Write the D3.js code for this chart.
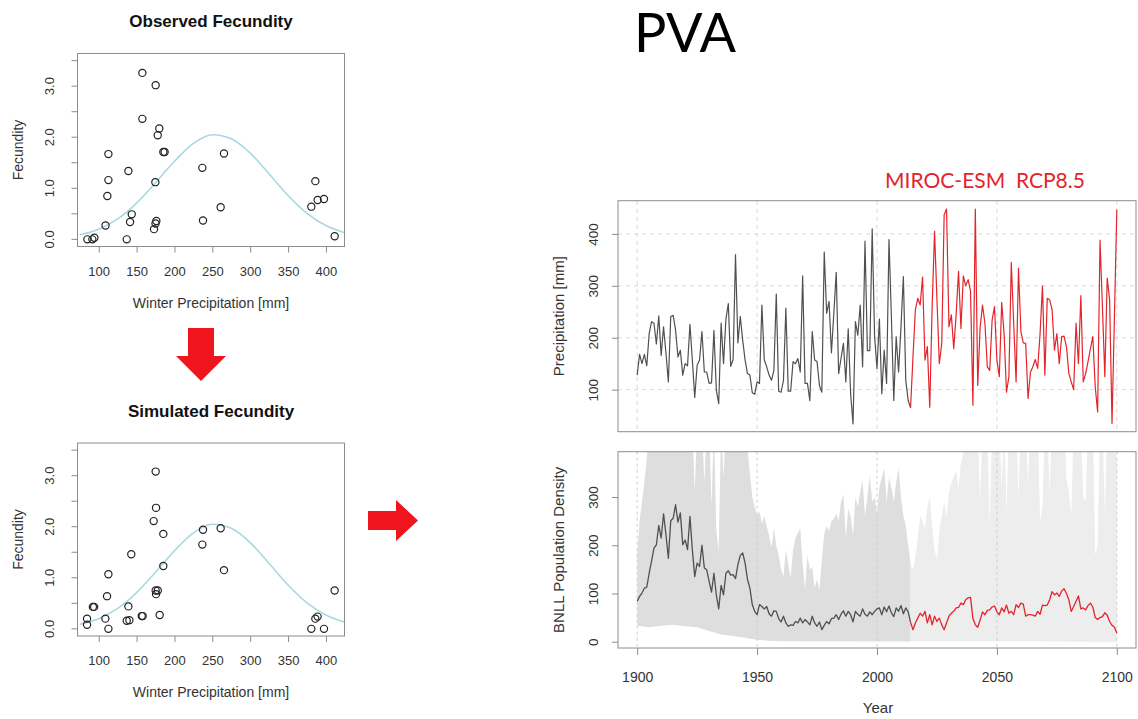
<!DOCTYPE html>
<html>
<head>
<meta charset="utf-8">
<script src="https://cdn.jsdelivr.net/npm/d3@7"></script>
<style>
  body { margin: 0; background: #fff; }
  svg { display: block; font-family: "Liberation Sans", Arial, sans-serif; }
</style>
</head>
<body>
<svg id="chart" width="1138" height="719"></svg>
<script>
// Fecundity vs winter precipitation (observed and simulated)
const obsPrecip = [85, 91.6, 94.3, 109, 111.4, 112.8, 112.8, 137, 141.4, 143.6, 139.2, 157.6, 157.6, 175.2, 180, 177.9, 185.3, 187, 174.8, 176.1, 175, 173, 236.8, 237.7, 261, 265.4, 380.7, 386, 389, 397.4, 411.5];
const obsFec = [0, 0, 0.03, 0.27, 0.85, 1.16, 1.67, 0, 0.34, 0.49, 1.34, 3.26, 2.36, 3.02, 2.17, 2.04, 1.71, 1.71, 1.12, 0.36, 0.31, 0.2, 1.4, 0.37, 0.63, 1.68, 0.64, 1.14, 0.77, 0.79, 0.06];
const simPrecip = [84.6, 84.6, 92.3, 94, 108.8, 111, 112.8, 112.8, 137, 140.5, 139.2, 143, 156.8, 158, 172.6, 175.2, 175.7, 175.2, 178, 175.7, 180.5, 185.3, 185.3, 236.8, 237.7, 261, 265.4, 380.7, 386, 389, 397.4, 411.5];
const simFec = [0.2, 0.08, 0.43, 0.43, 0.2, 0.64, 1.07, 0, 0.16, 0.17, 0.44, 1.46, 0.25, 0.25, 2.11, 3.08, 2.37, 0.75, 0.75, 0.68, 0.27, 1.86, 1.23, 1.65, 1.94, 1.97, 1.15, 0, 0.2, 0.24, 0, 0.75];
// fitted response curve
const curvePrecip = [75, 100, 125, 150, 175, 200, 225, 250, 275, 300, 325, 350, 375, 400, 425];
const curveFec = [0.09, 0.2, 0.4, 0.71, 1.11, 1.53, 1.88, 2.05, 1.97, 1.69, 1.28, 0.86, 0.51, 0.27, 0.13];
const precipTicks = [100, 150, 200, 250, 300, 350, 400];
const fecTicks = [0, 0.5, 1, 1.5, 2, 2.5, 3, 3.5];
const fecLabels = ["0.0", "", "1.0", "", "2.0", "", "3.0", ""];

// Annual series 1900-2100 (MIROC-ESM RCP8.5 from 2014)
const years = d3.range(1900, 2101);
const splitYear = 2014;
const precip = [
  128, 168, 150, 168, 146, 208, 231, 228, 188, 242,
  166, 221, 170, 115, 241, 243, 215, 163, 176, 128,
  150, 146, 226, 157, 85, 147, 157, 212, 134, 134,
  112, 113, 214, 99, 73, 228, 150, 236, 266, 145,
  158, 360, 190, 241, 195, 157, 131, 128, 94, 91,
  115, 112, 263, 157, 144, 128, 118, 137, 284, 97,
  95, 118, 257, 97, 97, 154, 150, 160, 134, 319,
  112, 112, 79, 212, 157, 154, 108, 95, 365, 247,
  270, 171, 247, 326, 131, 160, 189, 115, 217, 92,
  34, 231, 205, 263, 144, 386, 175, 175, 410, 202,
  141, 236, 92, 176, 112, 389, 240, 79, 202, 134,
  221, 318, 118, 79, 65, 163, 254, 276, 263, 317,
  157, 183, 66, 260, 405, 273, 150, 189, 437, 448,
  221, 244, 179, 244, 328, 218, 319, 300, 312, 290,
  70, 448, 108, 220, 263, 228, 144, 137, 234, 260,
  157, 125, 268, 208, 95, 125, 345, 228, 115, 334,
  212, 190, 189, 83, 134, 144, 158, 141, 208, 300,
  128, 276, 273, 254, 176, 208, 150, 202, 203, 183,
  131, 115, 100, 228, 150, 281, 115, 131, 154, 179,
  202, 105, 57, 388, 260, 125, 315, 273, 35, 240,
  447
];
const density = [
  84, 94, 101, 111, 113, 142, 167, 194, 201, 241,
  215, 265, 222, 173, 251, 256, 284, 248, 267, 201,
  211, 191, 260, 191, 135, 163, 156, 200, 153, 149,
  125, 103, 142, 97, 68, 117, 97, 142, 147, 138,
  139, 131, 160, 179, 184, 163, 129, 111, 77, 63,
  56, 77, 73, 68, 73, 58, 53, 64, 63, 48,
  41, 53, 39, 32, 35, 34, 42, 39, 49, 39,
  46, 41, 35, 53, 39, 32, 41, 25, 34, 42,
  37, 48, 49, 56, 46, 57, 64, 53, 63, 56,
  41, 63, 57, 53, 68, 57, 53, 62, 56, 63,
  68, 70, 56, 72, 62, 74, 60, 52, 70, 63,
  75, 58, 70, 62, 40, 25, 39, 49, 59, 53,
  63, 39, 56, 35, 53, 42, 49, 35, 25, 39,
  53, 59, 63, 70, 71, 80, 77, 87, 91, 92,
  48, 35, 30, 45, 62, 56, 65, 66, 72, 74,
  62, 56, 70, 62, 76, 59, 63, 56, 77, 71,
  80, 78, 53, 56, 56, 55, 53, 63, 57, 76,
  75, 76, 87, 104, 97, 101, 94, 105, 110, 100,
  87, 63, 73, 84, 95, 68, 70, 66, 75, 80,
  72, 50, 46, 50, 52, 60, 55, 42, 34, 30,
  18
];
// upper edge of the simulation envelope (values above ~394 run off the panel)
const bandUpper = [
  180, 250, 290, 330, 380, 450, 450, 450, 450, 450,
  450, 450, 450, 450, 450, 450, 450, 450, 450, 450,
  450, 450, 450, 450, 310, 450, 450, 450, 330, 450,
  450, 280, 450, 230, 190, 450, 340, 450, 450, 450,
  450, 450, 450, 450, 450, 450, 400, 350, 300, 280,
  262, 270, 245, 260, 240, 220, 195, 235, 200, 180,
  150, 135, 190, 160, 132, 190, 215, 225, 235, 160,
  110, 180, 150, 155, 112, 130, 108, 170, 225, 240,
  230, 250, 255, 265, 250, 290, 305, 215, 275, 260,
  220, 300, 280, 310, 335, 260, 300, 345, 290, 300,
  265, 320, 340, 360, 290, 340, 320, 290, 330, 360,
  300, 260, 240, 200, 160, 150, 175, 215, 260, 250,
  235, 280, 300, 240, 190, 170, 230, 260, 290, 260,
  310, 330, 340, 355, 320, 370, 390, 450, 450, 450,
  450, 450, 450, 290, 450, 450, 450, 240, 450, 450,
  450, 450, 320, 450, 270, 450, 450, 450, 450, 300,
  450, 450, 450, 330, 450, 450, 450, 450, 250, 280,
  450, 450, 310, 450, 450, 450, 450, 450, 450, 340,
  310, 260, 450, 450, 450, 450, 300, 290, 450, 450,
  450, 180, 200, 450, 450, 270, 450, 450, 450, 400,
  380
];
const bandLowerYears = [1900, 1905, 1910, 1915, 1920, 1925, 1930, 1935, 1940, 1945, 1950, 1955, 1960, 2014, 2100];
const bandLower = [33, 30, 33, 35, 32, 30, 22, 15, 12, 8, 4, 2, 1, 0.5, 0];
const yearTicks = [1900, 1950, 2000, 2050, 2100];
const precipYTicks = [100, 200, 300, 400];
const densYTicks = [0, 100, 200, 300];

const svg = d3.select("#chart");
const textCol = "#333";
const boxCol = "#8c8c8c";
const redCol = "#e3242b";
const histCol = "#505050";

// ---------- left: fecundity panels ----------
function fecundityPanel(top, title, xs, ys, id) {
    const bottom = top + 193;
    const x = d3.scaleLinear().domain([72, 424.5]).range([77.5, 344.5]);
    const y = d3.scaleLinear().domain([-0.14, 3.64]).range([bottom, top]);
    const g = svg.append("g");

    g.append("text")
        .attr("x", 211).attr("y", top - 26.5)
        .attr("text-anchor", "middle")
        .style("font-weight", "bold").style("font-size", "17px")
        .style("fill", "#111")
        .text(title);

    g.append("defs").append("clipPath").attr("id", id)
        .append("rect").attr("x", 77.5).attr("y", top).attr("width", 267).attr("height", 193);

    g.append("path")
        .datum(curvePrecip.map((p, i) => [p, curveFec[i]]))
        .attr("clip-path", `url(#${id})`)
        .attr("d", d3.line().x(d => x(d[0])).y(d => y(d[1])).curve(d3.curveMonotoneX))
        .attr("fill", "none")
        .attr("stroke", "#a9d8e2")
        .attr("stroke-width", 1.6);

    g.selectAll(".pt")
        .data(xs.map((p, i) => [p, ys[i]]))
        .enter().append("circle")
        .attr("cx", d => x(d[0]))
        .attr("cy", d => y(d[1]))
        .attr("r", 3.6)
        .attr("fill", "none")
        .attr("stroke", "#222")
        .attr("stroke-width", 1.2);

    g.append("rect")
        .attr("x", 77.5).attr("y", top).attr("width", 267).attr("height", 193)
        .attr("fill", "none").attr("stroke", boxCol);

    const xAxis = g.append("g")
        .attr("transform", `translate(0,${bottom})`)
        .call(d3.axisBottom(x).tickValues(precipTicks).tickSize(6).tickFormat(d3.format("d")));
    xAxis.select(".domain").remove();
    xAxis.selectAll("line").attr("stroke", boxCol);
    xAxis.selectAll("text")
        .attr("y", 29).attr("dy", 0)
        .style("font-size", "13px").style("fill", textCol)
        .style("font-family", "Liberation Sans, Arial, sans-serif");

    const yAxis = g.append("g")
        .attr("transform", `translate(77.5,0)`)
        .call(d3.axisLeft(y).tickValues(fecTicks).tickSize(6).tickFormat((d, i) => fecLabels[i]));
    yAxis.select(".domain").remove();
    yAxis.selectAll("line").attr("stroke", boxCol);
    yAxis.selectAll("text")
        .attr("x", null).attr("dy", null)
        .attr("text-anchor", "middle")
        .attr("transform", d => `translate(-24,${y(d)}) rotate(-90)`)
        .style("font-size", "13px").style("fill", textCol)
        .style("font-family", "Liberation Sans, Arial, sans-serif");
    // labels are placed by their own transform, so drop the tick offset
    yAxis.selectAll(".tick").attr("transform", null);
    yAxis.selectAll(".tick line").attr("transform", d => `translate(0,${y(d)})`);

    g.append("text")
        .attr("x", 211).attr("y", bottom + 61)
        .attr("text-anchor", "middle")
        .style("font-size", "14px").style("fill", textCol)
        .text("Winter Precipitation [mm]");

    g.append("text")
        .attr("transform", `translate(23,${(top + bottom) / 2}) rotate(-90)`)
        .attr("text-anchor", "middle")
        .style("font-size", "14px").style("fill", textCol)
        .text("Fecundity");
}

fecundityPanel(53.5, "Observed Fecundity", obsPrecip, obsFec, "clipObs");
fecundityPanel(443, "Simulated Fecundity", simPrecip, simFec, "clipSim");

// red arrows
svg.append("polygon")
    .attr("points", "188,328 214,328 214,356 226,356 201,381 176,356 188,356")
    .attr("fill", "#f0141c");
svg.append("polygon")
    .attr("points", "368,511 396,511 396,500 418,520.5 396,541 396,530 368,530")
    .attr("fill", "#f0141c");

// titles
svg.append("text")
    .attr("x", 685).attr("y", 52)
    .attr("text-anchor", "middle")
    .style("font-family", "Lato, 'Open Sans', sans-serif")
    .style("font-size", "54px").style("fill", "#000")
    .text("PVA");

svg.append("text")
    .attr("x", 985).attr("y", 188)
    .attr("text-anchor", "middle")
    .style("font-family", "Lato, 'Open Sans', sans-serif")
    .style("font-size", "21px").style("fill", redCol)
    .style("white-space", "pre")
    .text("MIROC-ESM  RCP8.5");

// ---------- right: time series ----------
const left = 618, right = 1136;
const yearX = d3.scaleLinear().domain([1892, 2108]).range([left, right]);
const precipY = d3.scaleLinear().domain([19, 464]).range([431.7, 200.7]);
const densY = d3.scaleLinear().domain([-13, 394]).range([648, 451.7]);

const defs = svg.append("defs");
defs.append("clipPath").attr("id", "clipTop")
    .append("rect").attr("x", left).attr("y", 200.7).attr("width", right - left).attr("height", 231);
defs.append("clipPath").attr("id", "clipBot")
    .append("rect").attr("x", left).attr("y", 451.7).attr("width", right - left).attr("height", 196.3);

function splitSeries(values) {
    const pts = years.map((yr, i) => [yr, values[i]]);
    return [pts.filter(d => d[0] <= splitYear), pts.filter(d => d[0] >= splitYear)];
}

// top panel: precipitation
const topG = svg.append("g");
topG.selectAll(".vgrid")
    .data(yearTicks).enter().append("line")
    .attr("x1", d => yearX(d)).attr("x2", d => yearX(d))
    .attr("y1", 200.7).attr("y2", 431.7)
    .attr("stroke", "#d8d8d8").attr("stroke-dasharray", "4,4");
topG.selectAll(".hgrid")
    .data(precipYTicks).enter().append("line")
    .attr("x1", left).attr("x2", right)
    .attr("y1", d => precipY(d)).attr("y2", d => precipY(d))
    .attr("stroke", "#d8d8d8").attr("stroke-dasharray", "4,4");

const precipLine = d3.line().x(d => yearX(d[0])).y(d => precipY(d[1]));
const [precipHist, precipFut] = splitSeries(precip);
topG.append("g").attr("clip-path", "url(#clipTop)")
    .selectAll("path")
    .data([[precipHist, histCol], [precipFut, redCol]])
    .enter().append("path")
    .attr("d", d => precipLine(d[0]))
    .attr("fill", "none")
    .attr("stroke", d => d[1])
    .attr("stroke-width", 1.2)
    .attr("stroke-linejoin", "round");

topG.append("rect")
    .attr("x", left).attr("y", 200.7).attr("width", right - left).attr("height", 231)
    .attr("fill", "none").attr("stroke", boxCol);

const topAxis = topG.append("g")
    .attr("transform", `translate(${left},0)`)
    .call(d3.axisLeft(precipY).tickValues(precipYTicks).tickSize(6));
topAxis.select(".domain").remove();
topAxis.selectAll("line").attr("stroke", boxCol);
topAxis.selectAll("text")
    .attr("x", null).attr("dy", null)
    .attr("text-anchor", "middle")
    .attr("transform", "translate(-20,0) rotate(-90)")
    .style("font-size", "13.5px").style("fill", textCol)
    .style("font-family", "Liberation Sans, Arial, sans-serif");

topG.append("text")
    .attr("transform", `translate(564,${(200.7 + 431.7) / 2}) rotate(-90)`)
    .attr("text-anchor", "middle")
    .style("font-size", "15px").style("fill", textCol)
    .text("Precipitation [mm]");

// bottom panel: population density with envelope
const botG = svg.append("g");
const bandLine = d3.line().x(d => yearX(d[0])).y(d => densY(d[1]));
function bandPoly(from, to) {
    const up = years.map((yr, i) => [yr, bandUpper[i]]).filter(d => d[0] >= from && d[0] <= to);
    const low = bandLowerYears.map((yr, i) => [yr, bandLower[i]]).filter(d => d[0] >= from && d[0] <= to);
    return bandLine(up.concat(low.reverse())) + "Z";
}
const bandG = botG.append("g").attr("clip-path", "url(#clipBot)");
bandG.append("path").attr("d", bandPoly(1900, splitYear)).attr("fill", "#dedede");
bandG.append("path").attr("d", bandPoly(splitYear, 2100)).attr("fill", "#ededed");

botG.selectAll(".vgrid")
    .data(yearTicks).enter().append("line")
    .attr("x1", d => yearX(d)).attr("x2", d => yearX(d))
    .attr("y1", 451.7).attr("y2", 648)
    .attr("stroke", "#cfcfcf").attr("stroke-dasharray", "3,3");

const densLine = d3.line().x(d => yearX(d[0])).y(d => densY(d[1]));
const [densHist, densFut] = splitSeries(density);
botG.append("g").attr("clip-path", "url(#clipBot)")
    .selectAll("path")
    .data([[densHist, histCol], [densFut, redCol]])
    .enter().append("path")
    .attr("d", d => densLine(d[0]))
    .attr("fill", "none")
    .attr("stroke", d => d[1])
    .attr("stroke-width", 1.3)
    .attr("stroke-linejoin", "round");

botG.append("rect")
    .attr("x", left).attr("y", 451.7).attr("width", right - left).attr("height", 196.3)
    .attr("fill", "none").attr("stroke", boxCol);

const botYAxis = botG.append("g")
    .attr("transform", `translate(${left},0)`)
    .call(d3.axisLeft(densY).tickValues(densYTicks).tickSize(6));
botYAxis.select(".domain").remove();
botYAxis.selectAll("line").attr("stroke", boxCol);
botYAxis.selectAll("text")
    .attr("x", null).attr("dy", null)
    .attr("text-anchor", "middle")
    .attr("transform", "translate(-20,0) rotate(-90)")
    .style("font-size", "13.5px").style("fill", textCol)
    .style("font-family", "Liberation Sans, Arial, sans-serif");

const botXAxis = botG.append("g")
    .attr("transform", "translate(0,648)")
    .call(d3.axisBottom(yearX).tickValues(yearTicks).tickSize(7).tickFormat(d3.format("d")));
botXAxis.select(".domain").remove();
botXAxis.selectAll("line").attr("stroke", boxCol);
botXAxis.selectAll("text")
    .attr("y", 34).attr("dy", 0)
    .style("font-size", "14px").style("fill", textCol)
    .style("font-family", "Liberation Sans, Arial, sans-serif");

botG.append("text")
    .attr("transform", `translate(564,${(451.7 + 648) / 2}) rotate(-90)`)
    .attr("text-anchor", "middle")
    .style("font-size", "15px").style("fill", textCol)
    .text("BNLL Population Density");

botG.append("text")
    .attr("x", 878).attr("y", 713)
    .attr("text-anchor", "middle")
    .style("font-size", "15px").style("fill", textCol)
    .text("Year");
</script>
</body>
</html>
